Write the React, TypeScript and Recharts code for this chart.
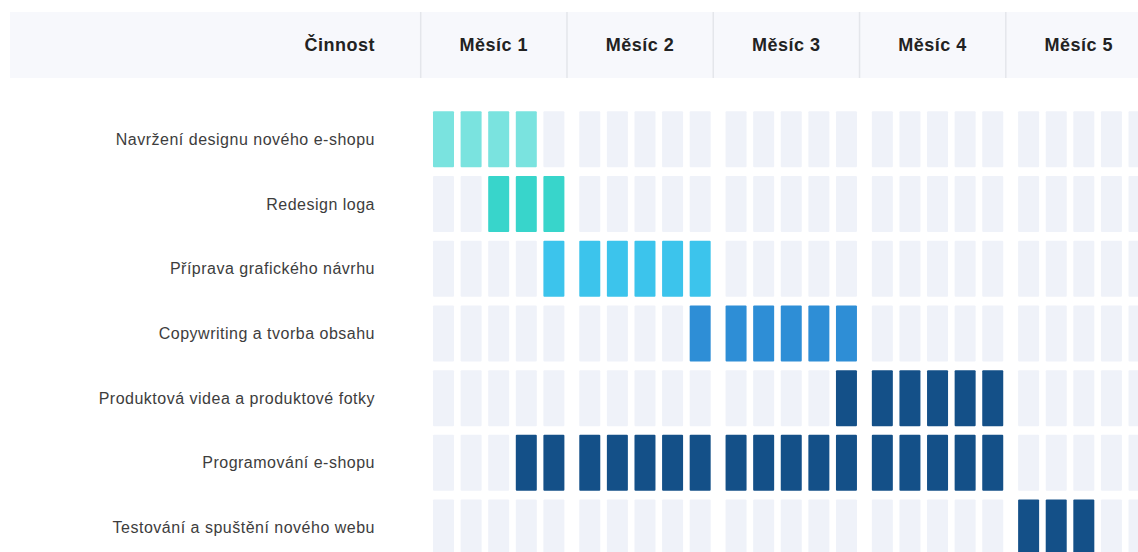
import React from 'react';
import { ScatterChart, Scatter, XAxis, YAxis } from 'recharts';

// ---- data ----
const tasks = [
  'Navržení designu nového e-shopu',
  'Redesign loga',
  'Příprava grafického návrhu',
  'Copywriting a tvorba obsahu',
  'Produktová videa a produktové fotky',
  'Programování e-shopu',
  'Testování a spuštění nového webu',
];
// first and last active week (0-based, 5 weeks per month)
const taskStart = [0, 2, 4, 9, 14, 3, 20];
const taskEnd = [3, 4, 9, 14, 19, 19, 22];
const taskColors = ['#7ae3df', '#38d5cb', '#3cc4ec', '#2e8ed6', '#145088', '#145088', '#145088'];
const months = ['Měsíc 1', 'Měsíc 2', 'Měsíc 3', 'Měsíc 4', 'Měsíc 5'];
const weeksPerMonth = 5;
const headerLabel = 'Činnost';

// ---- layout ----
const MONTH_SPAN = 5.3; // weeks + gap between months, in week units
const INACTIVE = '#eff2f9';
const FONT = '"Liberation Sans", Arial, sans-serif';

type Cell = { x: number; y: number; active: boolean; color: string };

const cells: Cell[] = [];
tasks.forEach((_, ti) => {
  months.forEach((_, mi) => {
    for (let w = 0; w < weeksPerMonth; w++) {
      const week = mi * weeksPerMonth + w;
      cells.push({
        x: mi * MONTH_SPAN + w,
        y: ti,
        active: week >= taskStart[ti] && week <= taskEnd[ti],
        color: taskColors[ti],
      });
    }
  });
});

const monthTicks = months.map((_, mi) => mi * MONTH_SPAN + (weeksPerMonth - 1) / 2);
const taskTicks = tasks.map((_, i) => i);

const CellShape = (props: any) => {
  const { cx, cy, payload } = props;
  const w = 21;
  const h = 56;
  return (
    <rect
      x={cx - w / 2}
      y={cy - h / 2}
      width={w}
      height={h}
      rx={1}
      fill={payload.active ? payload.color : INACTIVE}
    />
  );
};

const MonthTick = (props: any) => {
  const { x, payload } = props;
  const idx = Math.round((payload.value - (weeksPerMonth - 1) / 2) / MONTH_SPAN);
  return (
    <g>
      <line x1={x - 78} x2={x - 78} y1={12} y2={78} stroke="#e4e6eb" strokeWidth={1.5} />
      <text
        x={x - 5}
        y={45}
        textAnchor="middle"
        dominantBaseline="central"
        fontFamily={FONT}
        fontWeight="bold"
        fontSize={18}
        letterSpacing={0.5}
        fill="#222"
      >
        {months[idx]}
      </text>
    </g>
  );
};

const TaskTick = (props: any) => {
  const { x, y, payload } = props;
  return (
    <text
      x={x}
      y={y}
      textAnchor="end"
      dominantBaseline="central"
      fontFamily={FONT}
      fontSize={16}
      letterSpacing={0.5}
      fill="#3d3d3d"
    >
      {tasks[payload.value]}
    </text>
  );
};

export default function App() {
  return (
    <div
      style={{
        position: 'absolute',
        left: 0,
        top: 0,
        width: 1138,
        height: 552,
        overflow: 'hidden',
        background: '#ffffff',
        fontFamily: FONT,
      }}
    >
      <div
        style={{
          position: 'absolute',
          left: 10,
          top: 12,
          width: 1128,
          height: 66,
          background: '#f7f8fc',
        }}
      />
      <div
        style={{
          position: 'absolute',
          left: 0,
          top: 12,
          width: 375,
          height: 66,
          lineHeight: '66px',
          textAlign: 'right',
          fontWeight: 'bold',
          fontSize: 18,
          letterSpacing: 0.5,
          color: '#222',
        }}
      >
        {headerLabel}
      </div>
      <div style={{ position: 'absolute', left: 0, top: 0 }}>
        <ScatterChart width={1138} height={552} margin={{ top: 0, right: 0, bottom: 0, left: 0 }}>
          <XAxis
            xAxisId="top"
            orientation="top"
            type="number"
            dataKey="x"
            domain={[-1.576, 25.163]}
            allowDataOverflow
            height={107}
            axisLine={false}
            tickLine={false}
            ticks={monthTicks}
            interval={0}
            tick={<MonthTick />}
          />
          <YAxis
            type="number"
            dataKey="y"
            domain={[-0.5, 6.378]}
            allowDataOverflow
            reversed
            width={400}
            axisLine={false}
            tickLine={false}
            tickMargin={19}
            ticks={taskTicks}
            interval={0}
            tick={<TaskTick />}
          />
          <Scatter
            data={cells}
            xAxisId="top"
            shape={<CellShape />}
            isAnimationActive={false}
          />
        </ScatterChart>
      </div>
    </div>
  );
}
